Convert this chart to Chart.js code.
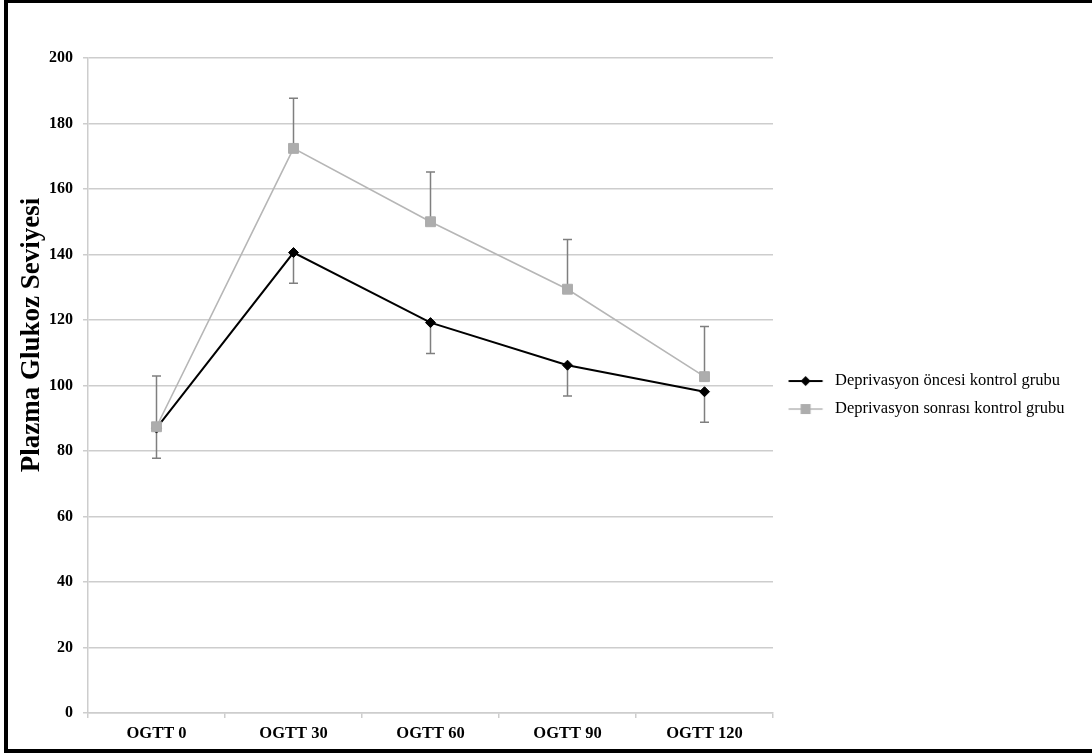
<!DOCTYPE html>
<html>
<head>
<meta charset="utf-8">
<script src="https://cdn.jsdelivr.net/npm/chart.js@4/dist/chart.umd.min.js"></script>
<style>
html,body{margin:0;padding:0;background:#fff;overflow:hidden;}
#wrap{position:relative;width:1092px;height:755px;}
canvas{position:absolute;left:0;top:0;}
#frame{position:absolute;left:4px;top:0;width:1088px;height:753px;box-sizing:border-box;border-left:4px solid #000;border-top:3px solid #000;border-bottom:4px solid #000;pointer-events:none;}
</style>
</head>
<body>
<div id="wrap"><canvas id="c" width="1092" height="755"></canvas><div id="frame"></div></div>
<script>
// ---- data ----
const categories = ['OGTT 0', 'OGTT 30', 'OGTT 60', 'OGTT 90', 'OGTT 120'];
const seriesNames = ['Deprivasyon öncesi kontrol grubu', 'Deprivasyon sonrası kontrol grubu'];
const oncesi = [87.0, 140.6, 119.2, 106.2, 98.1];
const oncesiErrMinus = [9.2, 9.4, 9.4, 9.4, 9.3];
const sonrasi = [87.4, 172.4, 150.0, 129.4, 102.7];
const sonrasiErrPlus = [15.5, 15.3, 15.2, 15.2, 15.3];
const yMin = 0, yMax = 200, yStep = 20;
const yTitleText = 'Plazma Glukoz Seviyesi';

// ---- style ----
const SERIF = '"Liberation Serif", "Times New Roman", serif';
const BLACK = '#000000';
const GRAY_LINE = '#b6b6b6';
const GRAY_MARK = '#adadad';
const ERR_COLOR = '#7f7f7f';
const GRID = '#cdcdcd';

function makeSwatch(lineColor, markColor, shape, lineW) {
  const cv = document.createElement('canvas');
  cv.width = 61; cv.height = 14;
  const g = cv.getContext('2d');
  g.strokeStyle = lineColor; g.lineWidth = lineW;
  g.beginPath(); g.moveTo(13.5, 7); g.lineTo(47.5, 7); g.stroke();
  g.fillStyle = markColor;
  if (shape === 'diamond') {
    g.beginPath(); g.moveTo(30.5, 2); g.lineTo(35.5, 7); g.lineTo(30.5, 12); g.lineTo(25.5, 7); g.closePath(); g.fill();
  } else {
    g.fillRect(25.5, 2, 10, 10);
  }
  return cv;
}
const swatches = [makeSwatch(BLACK, BLACK, 'diamond', 2), makeSwatch(GRAY_LINE, GRAY_MARK, 'square', 1.6)];

const errorBars = {
  id: 'errorBars',
  beforeDatasetsDraw(chart) {
    const ctx = chart.ctx, xs = chart.scales.x, ys = chart.scales.y;
    ctx.save();
    ctx.strokeStyle = ERR_COLOR; ctx.lineWidth = 1.5;
    const draw = (vals, errs, dir) => {
      vals.forEach((v, i) => {
        const px = xs.getPixelForValue(i);
        const p0 = ys.getPixelForValue(v);
        const p1 = ys.getPixelForValue(v + dir * errs[i]);
        ctx.beginPath();
        ctx.moveTo(px, p0); ctx.lineTo(px, p1);
        ctx.moveTo(px - 4.5, p1); ctx.lineTo(px + 4.5, p1);
        ctx.stroke();
      });
    };
    draw(sonrasi, sonrasiErrPlus, 1);
    draw(oncesi, oncesiErrMinus, -1);
    ctx.restore();
  }
};

const legendFit = {
  id: 'legendFit',
  beforeLayout(chart) {
    const lg = chart.legend;
    if (lg && !lg.__patched) {
      const orig = lg.fit;
      lg.fit = function () { orig.call(this); if (!this.isHorizontal()) this.width = 319; };
      lg.__patched = true;
    }
  }
};

const yTitle = {
  id: 'yTitle',
  afterDraw(chart) {
    const ctx = chart.ctx;
    ctx.save();
    ctx.translate(32.5, 335);
    ctx.rotate(-Math.PI / 2);
    ctx.font = 'bold 27px ' + SERIF;
    ctx.fillStyle = '#000';
    ctx.textAlign = 'center';
    ctx.textBaseline = 'middle';
    ctx.fillText(yTitleText, 0, 0);
    ctx.restore();
  }
};

new Chart(document.getElementById('c'), {
  type: 'line',
  data: {
    labels: categories,
    datasets: [
      {
        label: seriesNames[0], data: oncesi,
        borderColor: BLACK, backgroundColor: BLACK, borderWidth: 2,
        pointStyle: 'rectRot', pointRadius: 5, pointBorderWidth: 1,
        pointBackgroundColor: BLACK, pointBorderColor: BLACK,
        tension: 0, order: 2
      },
      {
        label: seriesNames[1], data: sonrasi,
        borderColor: GRAY_LINE, backgroundColor: GRAY_MARK, borderWidth: 1.6,
        pointStyle: 'rect', pointRadius: 7, pointBorderWidth: 1,
        pointBackgroundColor: GRAY_MARK, pointBorderColor: GRAY_MARK,
        tension: 0, order: 1
      }
    ]
  },
  options: {
    responsive: false,
    animation: false,
    devicePixelRatio: 1,
    layout: { padding: { top: 58, right: 0, bottom: 0, left: 0 } },
    scales: {
      x: {
        type: 'category',
        offset: true,
        grid: { display: true, drawOnChartArea: false, drawTicks: true, tickLength: 5, offset: true, color: GRID, lineWidth: 1.5 },
        border: { display: true, color: GRID, width: 1.5 },
        ticks: { color: '#000', padding: 6, font: { family: SERIF, size: 16.5, weight: 'bold' }, maxRotation: 0 },
        afterFit(s) { s.height = 42; }
      },
      y: {
        min: yMin, max: yMax,
        grid: { color: GRID, lineWidth: 1.5, drawTicks: true, tickLength: 5 },
        border: { display: true, color: GRID, width: 1.5 },
        ticks: { stepSize: yStep, color: '#000', padding: 10, font: { family: SERIF, size: 16, weight: 'bold' } },
        afterFit(s) { s.width = 88; }
      }
    },
    plugins: {
      tooltip: { enabled: false },
      legend: {
        position: 'right',
        fullSize: false,
        align: 'center',
        title: { display: true, text: '', padding: { top: 19, bottom: 0 }, font: { size: 0.0001 } },
        labels: {
          usePointStyle: true,
          pointStyleWidth: 42.25,
          padding: 11.5,
          color: '#000',
          font: { family: SERIF, size: 16.5 },
          generateLabels() {
            return seriesNames.map((n, i) => ({
              text: n, pointStyle: swatches[i], datasetIndex: i,
              fillStyle: 'transparent', strokeStyle: 'transparent', lineWidth: 0, hidden: false, fontColor: '#000'
            }));
          }
        }
      }
    }
  },
  plugins: [errorBars, legendFit, yTitle]
});
</script>
</body>
</html>
